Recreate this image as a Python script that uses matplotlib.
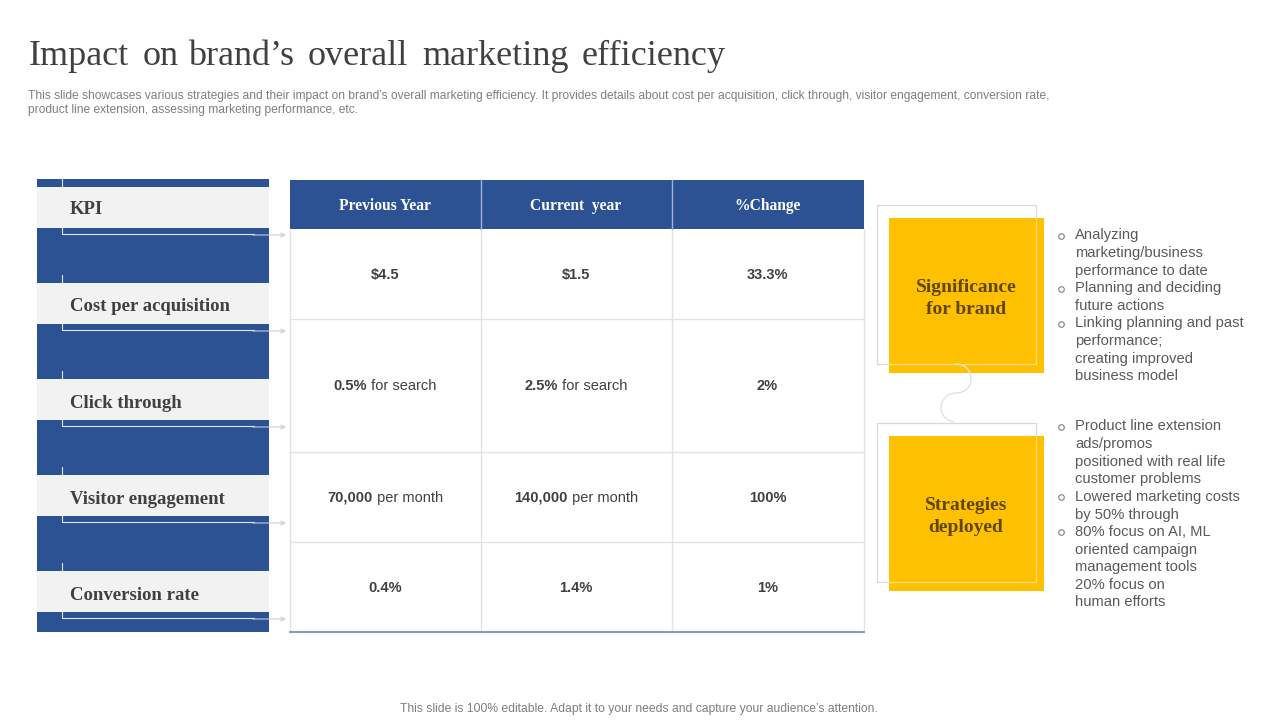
#!/usr/bin/python

"""
Slide with the KPI table, rebuilt in pixel coordinates
"""

from matplotlib import pyplot as plt
from matplotlib.patches import Rectangle, PathPatch
from matplotlib.path import Path

SERIF = "Liberation Serif"
SANS = "Liberation Sans"
BLUE = "#2c5294"
YELLOW = "#ffc000"
DARK = "#404040"
GREY = "#7f7f7f"
LINE = "#e1e3e8"

# the title has wide word gaps, so every word gets its own left edge
TITLE_WORDS = ["Impact", "on", "brand\u2019s", "overall", "marketing", "efficiency"]
TITLE_X = [29, 143, 188, 308, 422, 582]
SUB_1 = ("This slide showcases various strategies and their impact on brand\u2019s overall marketing "
         "efficiency. It provides details about cost per acquisition, click through, visitor engagement, conversion rate,")
SUB_2 = "product line extension, assessing marketing performance, etc."
FOOTER = "This slide is 100% editable. Adapt it to your needs and capture your audience\u2019s attention."

KPIS = ["KPI", "Cost per acquisition", "Click through", "Visitor engagement", "Conversion rate"]
COLUMNS = ["Previous Year", "Current  year", "%Change"]
# (bold part, normal part) for every cell
ROWS = [
    [("$4.5", ""), ("$1.5", ""), ("33.3%", "")],
    [("0.5%", " for search"), ("2.5%", " for search"), ("2%", "")],
    [("70,000", " per month"), ("140,000", " per month"), ("100%", "")],
    [("0.4%", ""), ("1.4%", ""), ("1%", "")],
]
SIGNIFICANCE = [
    (True, "Analyzing"), (False, "marketing/business"), (False, "performance to date"),
    (True, "Planning and deciding"), (False, "future actions"),
    (True, "Linking planning and past"), (False, "performance;"),
    (False, "creating improved"), (False, "business model"),
]
STRATEGIES = [
    (True, "Product line extension"), (False, "ads/promos"), (False, "positioned with real life"),
    (False, "customer problems"),
    (True, "Lowered marketing costs"), (False, "by 50% through"),
    (True, "80% focus on AI, ML"), (False, "oriented campaign"), (False, "management tools"),
    (False, "20% focus on"), (False, "human efforts"),
]

KPI_TOPS = [187, 283, 379, 475, 571]
COL_X = [290, 481, 672, 864]
ROW_Y = [229, 319, 452, 542, 632]


def rect(ax, x0, y0, x1, y1, color, z=1):
    ax.add_patch(Rectangle((x0, y0), x1 - x0, y1 - y0, facecolor=color, edgecolor="none", zorder=z))


def outline(ax, x0, y0, x1, y1, color, z=3):
    ax.add_patch(Rectangle((x0, y0), x1 - x0, y1 - y0, fill=False, edgecolor=color, lw=0.9, zorder=z))


def cell_text(ax, fig, cx, cy, bold, normal):
    # measure both parts so the mixed weight string stays centred
    rend = fig.canvas.get_renderer()
    a = ax.text(0, 0, bold, fontsize=10.5, fontweight="bold", family=SANS, color=DARK)
    wa = a.get_window_extent(rend).width
    a.remove()
    wb = 0
    if normal:
        b = ax.text(0, 0, normal.replace(" ", "\u00a0"), fontsize=10.5, family=SANS, color=DARK)
        wb = b.get_window_extent(rend).width
        b.remove()
    x = cx - (wa + wb) / 2
    ax.text(x, cy, bold, fontsize=10.5, fontweight="bold", family=SANS, color=DARK, va="center", zorder=5)
    if normal:
        ax.text(x + wa, cy, normal.replace(" ", "\u00a0"), fontsize=10.5, family=SANS, color=DARK,
                va="center", zorder=5)


def bullets(ax, lines, y0, step=17.6):
    for i, (first, line) in enumerate(lines):
        y = y0 + i * step
        if first:
            ax.plot(1061, y + 0.3, "o", ms=4, mfc="white", mec="#7f7f7f", mew=0.8, zorder=5)
        ax.text(1075, y, line, fontsize=10.65, family=SANS, color="#595959", va="center", zorder=5)


def main():
    fig = plt.figure(figsize=(12.8, 7.2), dpi=100)
    ax = fig.add_axes([0, 0, 1, 1])
    ax.set_xlim(0, 1280)
    ax.set_ylim(720, 0)
    ax.axis("off")

    for word, x in zip(TITLE_WORDS, TITLE_X):
        ax.text(x, 65, word, fontsize=26, family=SERIF, color=DARK, va="baseline")
    ax.text(28, 95.5, SUB_1, fontsize=8.65, family=SANS, color=GREY, va="center")
    ax.text(28, 109.5, SUB_2, fontsize=8.65, family=SANS, color=GREY, va="center")
    ax.text(639, 709, FOOTER, fontsize=8.72, family=SANS, color=GREY, va="center", ha="center")

    # left column
    rect(ax, 37, 179, 269, 632, BLUE)
    for i, (top, name) in enumerate(zip(KPI_TOPS, KPIS)):
        rect(ax, 37, top, 269, top + 41, "#f2f2f2", 2)
        ax.text(70, top + 23 + i * 0.5, name, fontsize=13.5, fontweight="bold", family=SERIF, color=DARK,
                va="center", zorder=5)
        # the connector is hidden behind the grey band
        ax.plot([61.5, 61.5], [top - 8, top], color="#dfe6f2", lw=0.8, zorder=1.5)
        ax.plot([61.5, 61.5, 254], [top + 41, top + 47, top + 47], color="#dfe6f2", lw=0.8, zorder=3)
        ax.annotate("", xy=(286, top + 48), xytext=(253, top + 48), zorder=3,
                    arrowprops=dict(arrowstyle="->", color="#c9ccd3", lw=0.8, mutation_scale=7,
                                    shrinkA=0, shrinkB=0))

    # table
    rect(ax, COL_X[0], 180, COL_X[3], ROW_Y[0], BLUE)
    for x in COL_X[1:3]:
        ax.plot([x, x], [180, ROW_Y[0]], color="#9fb2d3", lw=1, zorder=3)
    for i, name in enumerate(COLUMNS):
        cx = (COL_X[i] + COL_X[i + 1]) / 2
        ax.text(cx - 0.5, 206, name, fontsize=11.2, fontweight="bold", family=SERIF, color="white",
                ha="center", va="center", zorder=5)
    for x in COL_X:
        ax.plot([x, x], [ROW_Y[0], ROW_Y[-1]], color=LINE, lw=1, zorder=2)
    for y in ROW_Y[1:-1]:
        ax.plot([COL_X[0], COL_X[3]], [y, y], color=LINE, lw=1, zorder=2)
    ax.plot([COL_X[0], COL_X[3]], [ROW_Y[-1], ROW_Y[-1]], color="#7488ad", lw=1.2, zorder=3)

    fig.canvas.draw()
    for r, row in enumerate(ROWS):
        cy = (ROW_Y[r] + ROW_Y[r + 1]) / 2 + 1
        for c, (bold, normal) in enumerate(row):
            cell_text(ax, fig, (COL_X[c] + COL_X[c + 1]) / 2 - 0.5, cy, bold, normal)

    # yellow boxes
    for top, lines in ((218, ["Significance", "for brand"]), (436, ["Strategies", "deployed"])):
        rect(ax, 889, top, 1044, top + 155, YELLOW)
        outline(ax, 876.5, top - 13.5, 1035.5, top + 146, "#d9d9d9", 0.5)
        ax.plot([889, 1035.5, 1035.5], [top + 146, top + 146, top], color="#ffe08a", lw=0.9, zorder=2)
        ax.text(966, top + 69, lines[0], fontsize=14, fontweight="bold", family=SERIF, color="#5f4700",
                ha="center", va="center", zorder=5)
        ax.text(966, top + 91, lines[1], fontsize=14, fontweight="bold", family=SERIF, color="#5f4700",
                ha="center", va="center", zorder=5)

    # s-shaped link between the boxes
    verts = [(955, 364), (965, 364), (971, 370), (971, 379), (971, 388), (964, 393), (956, 393),
             (948, 393), (941, 399), (941, 408), (941, 416), (948, 421), (954, 422)]
    codes = [Path.MOVETO] + [Path.CURVE4] * 12
    ax.add_patch(PathPatch(Path(verts, codes), fill=False, edgecolor="#e2e2e2", lw=1, zorder=2))

    bullets(ax, SIGNIFICANCE, 235.5)
    bullets(ax, STRATEGIES, 426.5)

    fig.savefig("out.png", dpi=100)


if __name__ == "__main__":
    main()
